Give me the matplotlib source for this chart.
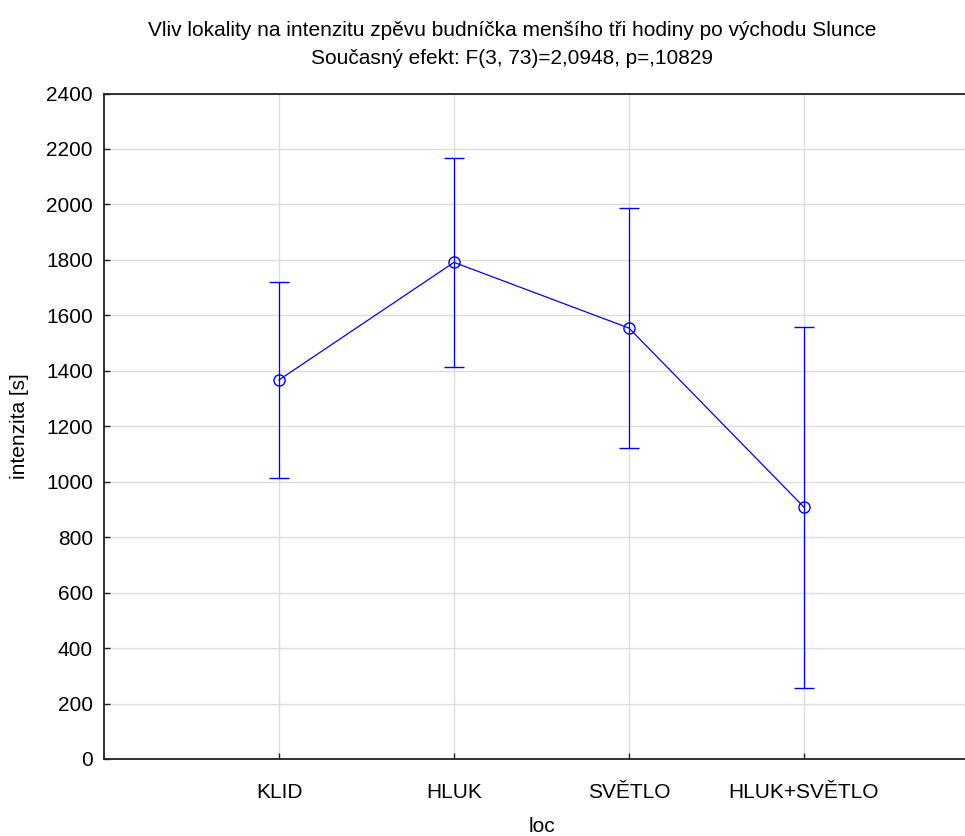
import matplotlib
matplotlib.use("Agg")
import matplotlib.pyplot as plt

plt.rcParams['font.family'] = ['Liberation Sans', 'DejaVu Sans']

categories = ["KLID", "HLUK", "SVĚTLO", "HLUK+SVĚTLO"]
means = [1367, 1791, 1554, 908]
ci_half = [354, 376, 433, 651]

FS = 15

fig = plt.figure(figsize=(9.65, 8.36), dpi=100)
W, H = 965, 836
left, right, top, bottom = 104, 979, 93.5, 759
ax = fig.add_axes([left / W, 1 - bottom / H, (right - left) / W, (bottom - top) / H])

xs = list(range(1, len(categories) + 1))
ax.errorbar(xs, means, yerr=ci_half, color='#0000ff', lw=0.9, elinewidth=0.9,
            capsize=7, capthick=0.9, marker='o', markersize=8,
            markerfacecolor='none', markeredgecolor='#0000ff', markeredgewidth=1.0)

ax.set_xlim(0, 5)
ax.set_ylim(0, 2400)
ax.set_xticks(xs)
ax.set_xticklabels(categories)
ax.set_yticks(range(0, 2401, 200))
ax.grid(True, color='#dcdcdc', lw=1.0)
ax.set_axisbelow(True)
for s in ['left', 'bottom', 'top', 'right']:
    ax.spines[s].set_color('#222222')
    ax.spines[s].set_linewidth(1.3)
ax.tick_params(direction='in', length=4, width=1, colors='#222222',
               labelsize=FS, labelcolor='black')
ax.tick_params(axis='x', pad=17)
ax.tick_params(axis='y', pad=8)

# axis titles placed in figure pixels
fig.text(541.5 / W, 1 - 826 / H, "loc", ha='center', va='center', fontsize=FS)
fig.text(20 / W, 1 - 426 / H, "intenzita [s]", ha='center', va='center',
         rotation=90, fontsize=FS)

fig.text(512 / W, 1 - 30 / H,
         "Vliv lokality na intenzitu zpěvu budníčka menšího tři hodiny po východu Slunce",
         ha='center', va='center', fontsize=FS)
fig.text(512 / W, 1 - 58 / H,
         "Současný efekt: F(3, 73)=2,0948, p=,10829",
         ha='center', va='center', fontsize=FS)

fig.savefig("out.png", dpi=100)
